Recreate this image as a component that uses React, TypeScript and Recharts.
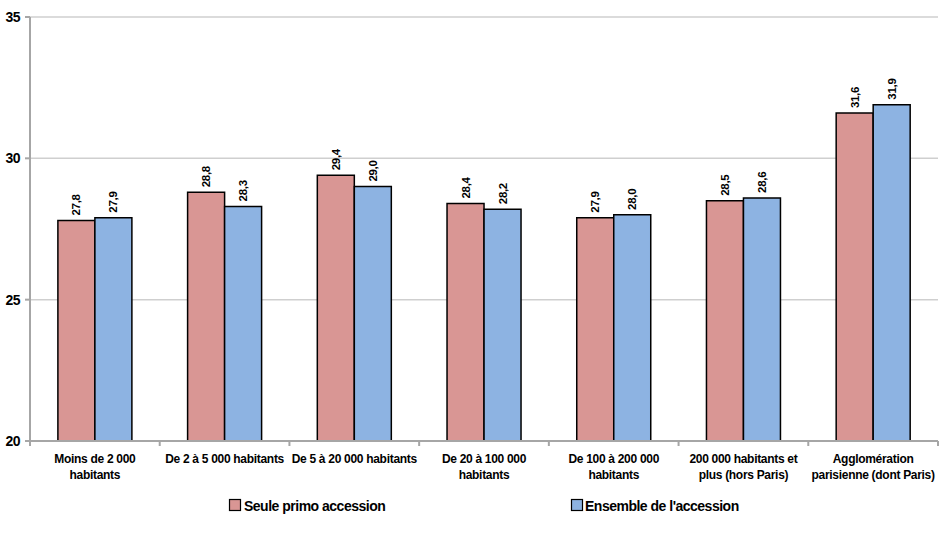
import React from 'react';
import { BarChart, Bar, XAxis, YAxis, CartesianGrid, Legend, LabelList } from 'recharts';

const categories = [
  'Moins de 2 000\nhabitants',
  'De 2 à 5 000 habitants',
  'De 5 à 20 000 habitants',
  'De 20 à 100 000\nhabitants',
  'De 100 à 200 000\nhabitants',
  '200 000 habitants et\nplus (hors Paris)',
  'Agglomération\nparisienne (dont Paris)',
];
const seulePrimo = [27.8, 28.8, 29.4, 28.4, 27.9, 28.5, 31.6];
const ensemble = [27.9, 28.3, 29.0, 28.2, 28.0, 28.6, 31.9];
const yTicks = [20, 25, 30, 35];
const seriesNames = ['Seule primo accession', "Ensemble de l'accession"];

const data = categories.map((c, i) => ({ cat: c, a: seulePrimo[i], b: ensemble[i] }));

const FONT = '"Liberation Sans", Arial, Helvetica, sans-serif';
const PINK = '#D99694';
const BLUE = '#8DB3E2';
const AXIS = '#a6a6a6';
const BAND = (944 - 6 - 30) / categories.length;

const fmt = (v: number) => v.toFixed(1).replace('.', ',');

const CatTick = (props: any) => {
  const { x, y, payload, index } = props;
  const lines = String(payload.value).split('\n');
  const ay = y - 7;
  return (
    <g>
      <line x1={x - BAND / 2} x2={x - BAND / 2} y1={ay} y2={ay + 5} stroke={AXIS} strokeWidth={2} />
      {index === categories.length - 1 && (
        <line x1={x + BAND / 2} x2={x + BAND / 2} y1={ay} y2={ay + 5} stroke={AXIS} strokeWidth={2} />
      )}
      {lines.map((l: string, i: number) => (
        <text key={i} x={x} y={y + 15 + i * 16} textAnchor="middle" fontFamily={FONT} fontWeight="bold" fontSize={12} letterSpacing={-0.3} fill="#000">
          {l}
        </text>
      ))}
    </g>
  );
};

const YTick = (props: any) => {
  const { x, y, payload } = props;
  return (
    <text x={x - 3} y={y + 5} textAnchor="end" fontFamily={FONT} fontWeight="bold" fontSize={14} letterSpacing={-0.5} fill="#000">
      {payload.value}
    </text>
  );
};

const ValLabel = (props: any) => {
  const { x, y, width, value } = props;
  const cx = x + width / 2 + 4;
  const cy = y - 5;
  return (
    <text x={cx} y={cy} transform={`rotate(-90 ${cx} ${cy})`} textAnchor="start" fontFamily={FONT} fontWeight="bold" fontSize={11.5} letterSpacing={-0.3} fill="#000">
      {fmt(value)}
    </text>
  );
};

const LegendContent = () => (
  <svg width={944} height={30} style={{ position: 'absolute', left: 0, top: 0 }}>
    <rect x={229.5} y={7.5} width={11} height={11} fill={PINK} stroke="#000" strokeWidth={1.2} />
    <text x={244} y={19} fontFamily={FONT} fontWeight="bold" fontSize={14} letterSpacing={-0.5} fill="#000">{seriesNames[0]}</text>
    <rect x={571.5} y={7.5} width={11} height={11} fill={BLUE} stroke="#000" strokeWidth={1.2} />
    <text x={585} y={19} fontFamily={FONT} fontWeight="bold" fontSize={14} letterSpacing={-0.5} fill="#000">{seriesNames[1]}</text>
  </svg>
);

export default function App() {
  return (
    <div style={{ position: 'absolute', left: 0, top: 0, background: '#fff' }}>
      <BarChart
        width={944}
        height={533}
        data={data}
        margin={{ top: 17, right: 6, bottom: 0, left: 0 }}
        barCategoryGap="21.5%"
        barGap={0}
      >
        <CartesianGrid vertical={false} stroke="#cfcfcf" strokeWidth={1.5} />
        <XAxis
          dataKey="cat"
          interval={0}
          height={62}
          tick={<CatTick />}
          axisLine={{ stroke: AXIS, strokeWidth: 2 }}
          tickLine={false}
          tickSize={5}
          tickMargin={2}
          scale="band"
        />
        <YAxis
          domain={[20, 35]}
          ticks={yTicks}
          width={30}
          tick={<YTick />}
          axisLine={{ stroke: AXIS, strokeWidth: 2 }}
          tickLine={{ stroke: AXIS, strokeWidth: 2 }}
          tickSize={5}
          allowDataOverflow
        />
        <Legend verticalAlign="bottom" content={<LegendContent />} wrapperStyle={{ left: 0, top: 492, width: 944, height: 30 }} />
        <Bar dataKey="a" name={seriesNames[0]} fill={PINK} stroke="#000" strokeWidth={1.5} isAnimationActive={false}>
          <LabelList dataKey="a" content={<ValLabel />} />
        </Bar>
        <Bar dataKey="b" name={seriesNames[1]} fill={BLUE} stroke="#000" strokeWidth={1.5} isAnimationActive={false}>
          <LabelList dataKey="b" content={<ValLabel />} />
        </Bar>
      </BarChart>
    </div>
  );
}
